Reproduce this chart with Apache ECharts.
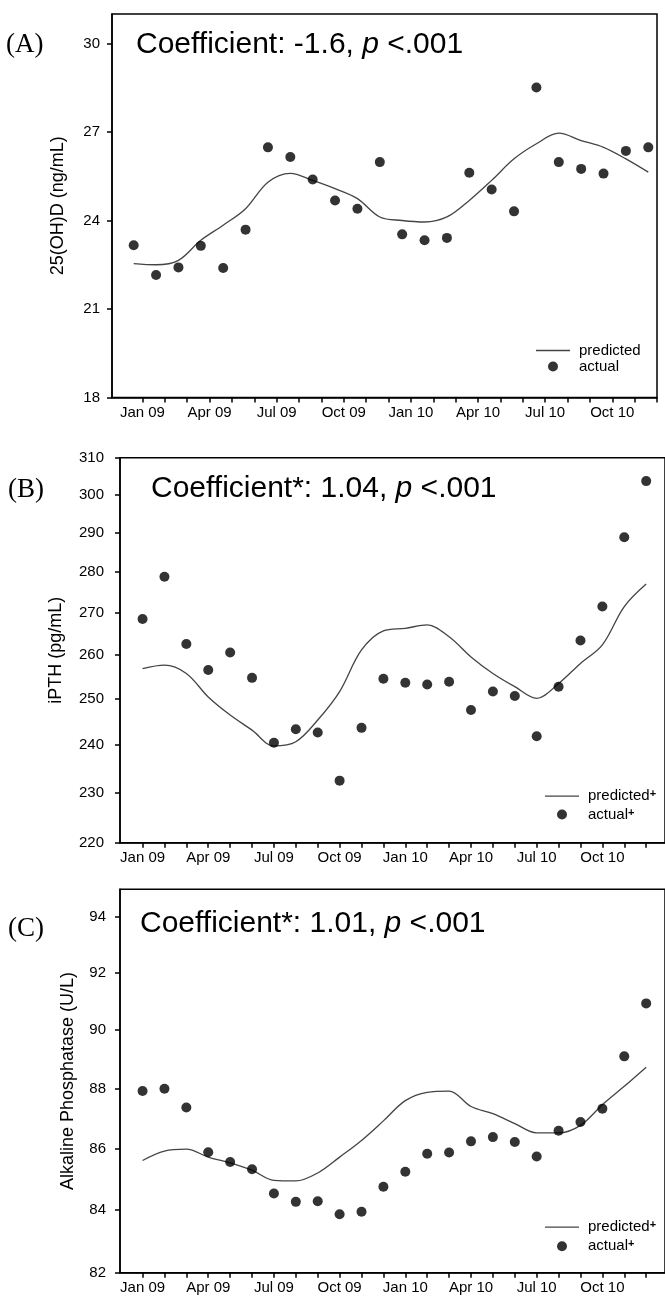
<!DOCTYPE html>
<html>
<head>
<meta charset="utf-8">
<script src="https://cdn.jsdelivr.net/npm/echarts@6/dist/echarts.min.js"></script>
<style>
  html, body { margin: 0; padding: 0; background: #fff; }
  #chart { width: 665px; height: 1301px; }
</style>
</head>
<body>
<div id="chart"></div>
<script>
// months Jan 09 .. Dec 10, index 0..23
const months = [0, 1, 2, 3, 4, 5, 6, 7, 8, 9, 10, 11, 12, 13, 14, 15, 16, 17, 18, 19, 20, 21, 22, 23];
const tickLabels = ["Jan 09", "Apr 09", "Jul 09", "Oct 09", "Jan 10", "Apr 10", "Jul 10", "Oct 10"];

// (A) 25(OH)D
const vitDActual = [23.16, 22.15, 22.41, 23.14, 22.39, 23.69, 26.48, 26.15, 25.39, 24.68, 24.4, 25.98,
  23.53, 23.33, 23.41, 25.62, 25.05, 24.31, 28.51, 25.98, 25.75, 25.59, 26.36, 26.48];
const vitDPredicted = [22.54, 22.5, 22.65, 23.33, 23.84, 24.4, 25.3, 25.6, 25.36, 25.08, 24.74, 24.12,
  24.0, 23.95, 24.12, 24.68, 25.36, 26.09, 26.6, 26.96, 26.71, 26.48, 26.09, 25.64];
const vitDTicks = [18, 21, 24, 27, 30];

// (B) iPTH
const pthActual = [268.5, 278.8, 262.6, 256.6, 260.6, 254.8, 240.5, 243.4, 242.7, 232.5, 243.7, 254.6,
  253.7, 253.3, 253.9, 247.6, 251.7, 250.7, 241.9, 252.8, 263.4, 271.5, 288.8, 303.6];
const pthPredicted = [256.9, 257.7, 255.8, 250.5, 246.5, 243.2, 239.8, 240.7, 245.4, 251.7, 261.2, 265.7,
  266.3, 267.1, 264.3, 259.6, 255.8, 252.8, 250.2, 253.5, 258.1, 262.4, 271.5, 277.0];
const pthTicks = [220, 230, 240, 250, 260, 270, 280, 290, 300, 310];

// (C) Alkaline phosphatase
const alpActual = [87.92, 88.0, 87.37, 85.88, 85.56, 85.32, 84.53, 84.26, 84.28, 83.86, 83.94, 84.75,
  85.24, 85.83, 85.87, 86.24, 86.38, 86.22, 85.74, 86.59, 86.88, 87.33, 89.1, 90.93];
const alpPredicted = [85.61, 85.92, 85.98, 85.72, 85.53, 85.29, 84.96, 84.94, 85.2, 85.72, 86.27, 86.92,
  87.6, 87.88, 87.92, 87.4, 87.16, 86.83, 86.52, 86.52, 86.77, 87.46, 88.08, 88.73];
const alpTicks = [82, 84, 86, 88, 90, 92, 94];

const FONT = "'Liberation Sans', Arial, sans-serif";
const SERIF = "'Liberation Serif', 'Times New Roman', serif";
// plain line for the legend (no symbol in the middle)
const LINE_ICON = "path://M0,0L34,0L34,1.3L0,1.3Z";

const toPairs = (arr) => arr.map((v, i) => [months[i], v]);

/**
 * x axis: one tick per month, a label every quarter
 */
function makeXAxis(gridIndex, min, max, tickOffset) {
  return {
    type: "value",
    gridIndex,
    min,
    max,
    axisLine: { onZero: false, lineStyle: { color: "#000", width: 1.5 } },
    axisTick: {
      inside: false,
      length: 5,
      customValues: months.map((m) => m + tickOffset),
      lineStyle: { color: "#000", width: 1.5 }
    },
    axisLabel: {
      customValues: tickLabels.map((_, q) => q * 3 + tickOffset),
      margin: 8,
      fontSize: 15,
      fontFamily: FONT,
      color: "#000",
      formatter: (v) => tickLabels[Math.round((v - tickOffset) / 3)]
    },
    splitLine: { show: false }
  };
}

function makeYAxis(gridIndex, type, min, max, ticks, name, nameGap, labelMargin) {
  const axis = {
    type,
    gridIndex,
    min,
    max,
    name,
    nameLocation: "middle",
    nameGap,
    nameTextStyle: { fontSize: 18, fontFamily: FONT, color: "#000" },
    axisLine: { show: true, onZero: false, lineStyle: { color: "#000", width: 1.5 } },
    axisTick: { show: true, inside: false, length: 5, customValues: ticks, lineStyle: { color: "#000", width: 1.5 } },
    axisLabel: { customValues: ticks, margin: labelMargin, fontSize: 15, fontFamily: FONT, color: "#000" },
    splitLine: { show: false }
  };
  if (type === "log") axis.logBase = 10;
  return axis;
}

function lineSeries(name, idx, data) {
  return {
    name,
    type: "line",
    xAxisIndex: idx,
    yAxisIndex: idx,
    data: toPairs(data),
    smooth: 0.35,
    symbol: "none",
    lineStyle: { color: "#444", width: 1.3 },
    itemStyle: { color: "#444" },
    z: 2
  };
}

function dotSeries(name, idx, data) {
  return {
    name,
    type: "scatter",
    xAxisIndex: idx,
    yAxisIndex: idx,
    data: toPairs(data),
    symbol: "circle",
    symbolSize: 10,
    itemStyle: { color: "#000" },
    z: 3
  };
}

function makeLegend(names, left, top, gap) {
  return {
    data: [{ name: names[0], icon: LINE_ICON }, { name: names[1] }],
    orient: "vertical",
    left,
    top,
    padding: 0,
    itemWidth: 34,
    itemHeight: 10,
    itemGap: gap,
    selectedMode: false,
    textStyle: {
      fontSize: 15,
      fontFamily: FONT,
      color: "#000",
      padding: [0, 0, 0, 4],
      rich: { s: { fontSize: 11, fontWeight: "bold", fontFamily: FONT, color: "#000", verticalAlign: "top" } }
    },
    formatter: (n) => n.trim().replace("+", "{s|+}")
  };
}

function titleText(left, top, text) {
  return {
    type: "text",
    left,
    top,
    style: {
      text,
      fontSize: 30,
      fontFamily: FONT,
      fill: "#000",
      rich: { i: { fontSize: 30, fontFamily: FONT, fontStyle: "italic", fill: "#000" } }
    }
  };
}

function panelLabel(left, top, text) {
  return {
    type: "text",
    left,
    top,
    style: { text, fontSize: 27, fontFamily: SERIF, fill: "#000" }
  };
}

const chart = echarts.init(document.getElementById("chart"));

chart.setOption({
  backgroundColor: "#fff",
  animation: false,
  grid: [
    { left: 112, top: 14, width: 545, height: 383.5, show: true, borderColor: "#000", borderWidth: 1.5 },
    { left: 120, top: 457.7, width: 555, height: 385, show: true, borderColor: "#000", borderWidth: 1.5 },
    { left: 120, top: 889.3, width: 555, height: 383.4, show: true, borderColor: "#000", borderWidth: 1.5 }
  ],
  xAxis: [
    makeXAxis(0, -0.97, 23.39, 0.39),
    makeXAxis(1, -1.03, 23.86, 0),
    makeXAxis(2, -1.03, 23.86, 0)
  ],
  yAxis: [
    makeYAxis(0, "value", 18, 31, vitDTicks, "25(OH)D (ng/mL)", 45, 12),
    makeYAxis(1, "log", 220, 310, pthTicks, "iPTH (pg/mL)", 55, 16),
    makeYAxis(2, "log", 82, 95, alpTicks, "Alkaline Phosphatase (U/L)", 43, 14)
  ],
  legend: [
    makeLegend(["predicted", "actual"], 536, 343, 1),
    makeLegend(["predicted+", "actual+"], 545, 788.7, 3.3),
    makeLegend(["predicted+ ", "actual+ "], 545, 1219.7, 4)
  ],
  graphic: [
    panelLabel(6, 31, "(A)"),
    panelLabel(8, 476, "(B)"),
    panelLabel(8, 915, "(C)"),
    titleText(136, 30, "Coefficient: -1.6, {i|p} <.001"),
    titleText(151, 474, "Coefficient*: 1.04, {i|p} <.001"),
    titleText(140, 909, "Coefficient*: 1.01, {i|p} <.001")
  ],
  series: [
    lineSeries("predicted", 0, vitDPredicted),
    dotSeries("actual", 0, vitDActual),
    lineSeries("predicted+", 1, pthPredicted),
    dotSeries("actual+", 1, pthActual),
    lineSeries("predicted+ ", 2, alpPredicted),
    dotSeries("actual+ ", 2, alpActual)
  ]
});
</script>
</body>
</html>
